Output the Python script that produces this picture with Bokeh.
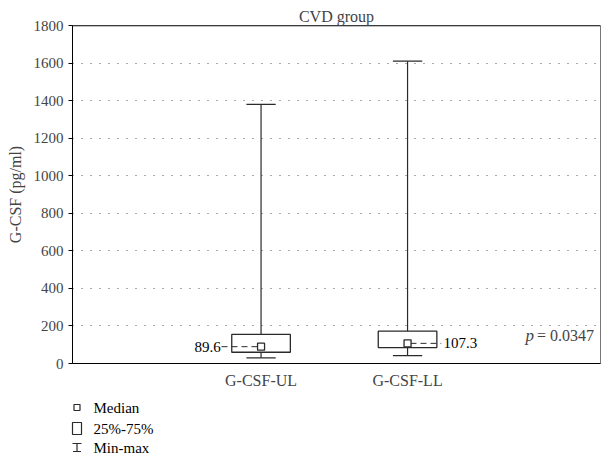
from bokeh.plotting import figure
from bokeh.models import Range1d, FixedTicker, Label, Span
from bokeh.layouts import column
from bokeh.core.properties import value
from bokeh.embed import file_html
from bokeh.resources import INLINE

# ---- data ----
categories = ["G-CSF-UL", "G-CSF-LL"]
cat_pos = [1, 2]
mins = [30, 42]
q1 = [60, 85]
medians = [89.6, 107.3]
q3 = [155, 172]
maxs = [1380, 1610]
median_labels = ["89.6", "107.3"]
y_ticks = [0, 200, 400, 600, 800, 1000, 1200, 1400, 1600, 1800]
p_text = "= 0.0347"

FONT = "Liberation Serif"
LINE = "#2a2a2a"

p = figure(width=608, height=393, output_backend="svg", toolbar_location=None,
           x_range=Range1d(-0.287, 3.317), y_range=Range1d(0, 1800),
           min_border_left=72, min_border_right=8, min_border_bottom=30, min_border_top=25)
p.frame_align = False
p.title.text = "CVD group"
p.title.align = "center"
p.title.text_font = FONT
p.title.text_font_size = "16px"
p.title.text_font_style = "normal"
p.title.standoff = 1
p.title.offset = 4

p.outline_line_color = "#777777"
p.outline_line_width = 1
p.background_fill_color = "white"
p.border_fill_color = "white"

# axes
p.yaxis.ticker = FixedTicker(ticks=y_ticks)
p.yaxis.axis_label = "G-CSF (pg/ml)"
p.yaxis.axis_label_text_font = FONT
p.yaxis.axis_label_text_font_style = "normal"
p.yaxis.axis_label_text_font_size = "16px"
p.yaxis.axis_label_standoff = 7
p.yaxis.major_label_text_font = FONT
p.yaxis.major_label_text_font_size = "15px"
p.yaxis.major_label_standoff = 5
p.yaxis.major_tick_in = 0
p.yaxis.major_tick_out = 4
p.yaxis.minor_tick_line_color = None
p.yaxis.axis_line_color = "black"
p.yaxis.major_tick_line_color = "black"

p.xaxis.ticker = FixedTicker(ticks=cat_pos)
p.xaxis.major_label_overrides = {c: t for c, t in zip(cat_pos, categories)}
p.xaxis.major_label_text_font = FONT
p.xaxis.major_label_text_font_size = "16px"
p.xaxis.major_label_standoff = 2
p.xaxis.major_tick_line_color = None
p.xaxis.minor_tick_line_color = None
p.xaxis.axis_line_color = "black"

p.xgrid.grid_line_color = None
p.ygrid.ticker = FixedTicker(ticks=y_ticks[1:-1])
p.ygrid.grid_line_color = "#555555"
p.ygrid.grid_line_dash = "1 8"
p.ygrid.grid_line_width = 1

p.add_layout(Span(location=1800, dimension="width", line_color="black", line_width=1.5))

# whiskers
p.segment(x0=cat_pos, y0=mins, x1=cat_pos, y1=maxs, line_color=LINE, line_width=1.2)
p.segment(x0=[c - 0.1 for c in cat_pos], y0=maxs, x1=[c + 0.1 for c in cat_pos], y1=maxs,
          line_color=LINE, line_width=1.2)
p.segment(x0=[c - 0.1 for c in cat_pos], y0=mins, x1=[c + 0.1 for c in cat_pos], y1=mins,
          line_color=LINE, line_width=1.2)
# boxes
p.quad(left=[c - 0.2 for c in cat_pos], right=[c + 0.2 for c in cat_pos], bottom=q1, top=q3,
       fill_color="white", line_color=LINE, line_width=1.3)
# median dashed leaders
lead_x0 = [cat_pos[0] - 0.27, cat_pos[1] + 0.02]
lead_x1 = [cat_pos[0] - 0.02, cat_pos[1] + 0.23]
p.segment(x0=lead_x0, y0=medians, x1=lead_x1, y1=medians, line_color=LINE, line_width=1,
          line_dash="6 4")
p.scatter(x=cat_pos, y=medians, marker="square", size=7, fill_color="white",
          line_color=LINE, line_width=1.3)
p.text(x=[cat_pos[0] - 0.275], y=[medians[0]], text=[median_labels[0]], text_align="right",
       text_baseline="middle", text_font=value(FONT), text_font_size="15px", text_color="black")
p.text(x=[cat_pos[1] + 0.245], y=[medians[1]], text=[median_labels[1]], text_align="left",
       text_baseline="middle", text_font=value(FONT), text_font_size="15px", text_color="black")

# p-value
p.add_layout(Label(x=3.3, y=150, text=p_text, text_align="right", text_baseline="alphabetic",
                   text_font=FONT, text_font_size="16px", x_offset=-4))
p.add_layout(Label(x=3.3, y=150, text="p", text_align="right", text_baseline="alphabetic",
                   text_font=FONT, text_font_size="17px", text_font_style="italic", x_offset=-64))

# ---- legend figure ----
leg_labels = ["Median", "25%-75%", "Min-max"]
lg = figure(width=608, height=64, output_backend="svg", toolbar_location=None,
            x_range=Range1d(0, 608), y_range=Range1d(64, 0),
            min_border=0, min_border_left=0, min_border_right=0, min_border_top=0, min_border_bottom=0)
lg.frame_align = False
lg.axis.visible = False
lg.grid.visible = False
lg.outline_line_color = None
mx = 76.5
ys = [14, 35, 54]
lg.scatter(x=[mx], y=[ys[0]], marker="square", size=6, fill_color="white", line_color=LINE, line_width=1.2)
lg.quad(left=[mx - 4.5], right=[mx + 4.5], top=[ys[1] - 6], bottom=[ys[1] + 6],
        fill_color="white", line_color=LINE, line_width=1.2)
lg.segment(x0=[mx - 4.5, mx, mx - 4], y0=[ys[2] - 4, ys[2] - 4, ys[2] + 4],
           x1=[mx + 4.5, mx, mx + 4], y1=[ys[2] - 4, ys[2] + 4, ys[2] + 4],
           line_color=LINE, line_width=1.2)
lg.text(x=[93] * 3, y=ys, text=leg_labels, text_align="left", text_baseline="middle",
        text_font=value(FONT), text_font_size="15px", text_color="black")

layout = column(p, lg, spacing=0)
open("out.html", "w").write(file_html(layout, INLINE))
